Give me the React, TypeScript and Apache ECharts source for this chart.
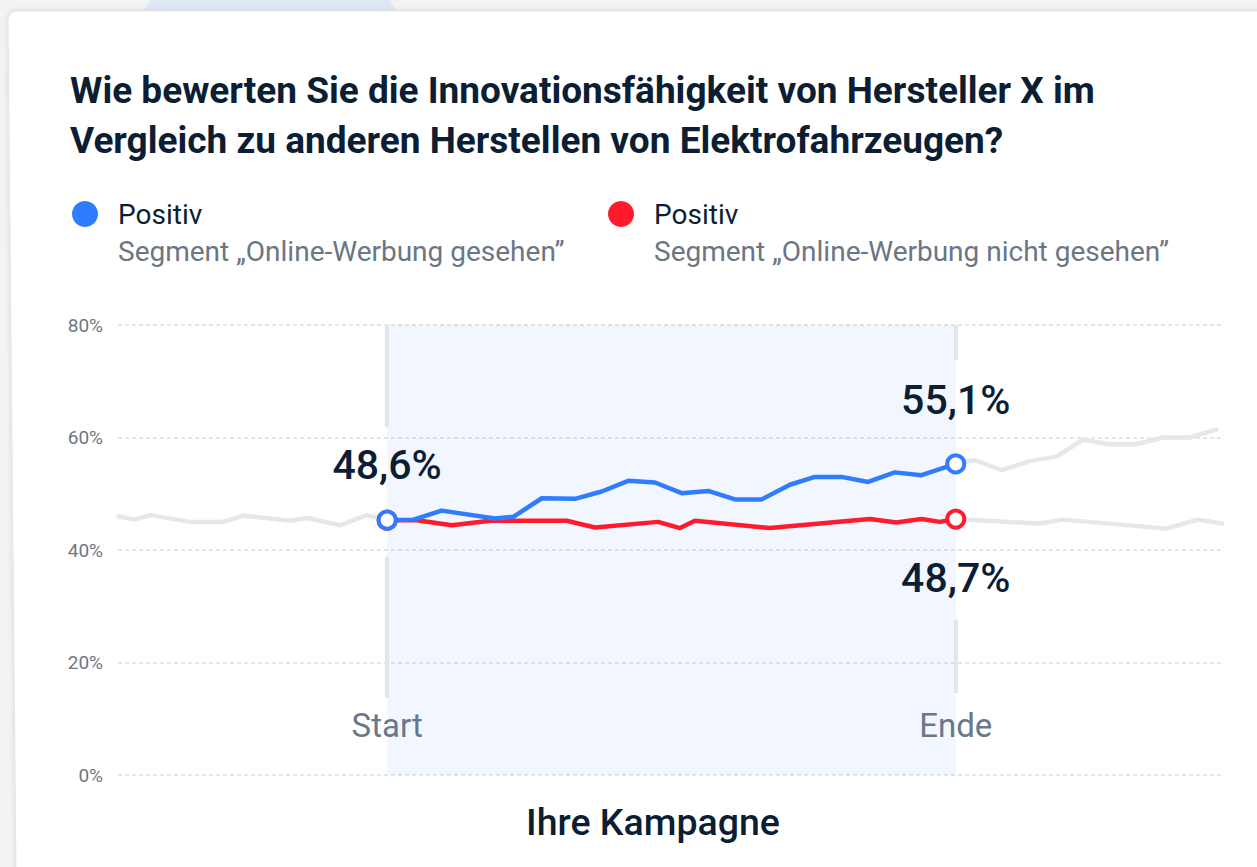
import React, { useEffect, useRef } from "react";
import * as echarts from "echarts";

// Title / legend texts
const titleText = "Wie bewerten Sie die Innovationsfähigkeit von Hersteller X im\nVergleich zu anderen Herstellen von Elektrofahrzeugen?";
const legendNames = ["Positiv", "Positiv"];
const legendSubs = ["Segment „Online-Werbung gesehen”", "Segment „Online-Werbung nicht gesehen”"];
const xAxisTitle = "Ihre Kampagne";
const campaignTicks = [0, 30];
const campaignTickLabels = ["Start", "Ende"];

// Before campaign (grey, days relative to start)
const preX = [-14.17, -13.38, -12.5, -10.39, -8.63, -7.58, -5.11, -4.23, -2.48, -1.07, 0];
const preY = [46.0, 45.4, 46.2, 45.0, 45.0, 46.1, 45.2, 45.7, 44.4, 46.2, 45.3];

// Campaign: segment "Online-Werbung gesehen" (blue)
const blueX = [0, 1.39, 2.88, 5.69, 6.66, 8.16, 9.91, 11.32, 12.72, 14.13, 15.54, 16.94, 18.35, 19.76, 21.25, 22.57, 23.97, 25.38, 26.78, 28.19, 30];
const blueY = [45.3, 45.4, 47.0, 45.6, 45.9, 49.2, 49.1, 50.4, 52.3, 52.0, 50.1, 50.5, 49.0, 49.0, 51.6, 53.0, 53.0, 52.1, 53.8, 53.3, 55.3];

// Campaign: segment "Online-Werbung nicht gesehen" (red)
const redX = [0, 1.57, 3.41, 5.43, 9.47, 10.97, 14.3, 15.45, 16.24, 20.19, 25.47, 26.87, 28.19, 29.16, 30];
const redY = [45.3, 45.3, 44.4, 45.2, 45.2, 44.0, 45.0, 43.9, 45.2, 43.9, 45.5, 44.9, 45.5, 45.0, 45.5];

// After campaign (grey)
const postUpperX = [30, 31.0, 32.41, 33.9, 35.31, 36.71, 38.12, 39.53, 40.93, 42.34, 43.74];
const postUpperY = [55.3, 56.0, 54.2, 55.8, 56.6, 59.6, 58.8, 58.8, 60.0, 60.0, 61.4];
const postLowerX = [30, 34.43, 35.66, 41.11, 42.77, 44.05];
const postLowerY = [45.5, 44.7, 45.4, 43.8, 45.4, 44.7];

// Value labels shown at the campaign endpoints
const blueLabels = ["48,6%", "55,1%"];
const redLabels = ["", "48,7%"];

const yTicks = { min: 0, max: 80, interval: 20 };

const zip = (xs: number[], ys: number[]) => xs.map((x, i) => [x, ys[i]]);

const BLUE = "#2f7cff";
const RED = "#ff1a2d";
const GREY_LINE = "#e6e7e9";
const DARK = "#0b1e33";
const MUTED = "#6b7684";
const FONT = "Roboto, 'Noto Sans', sans-serif";

export default function App() {
  const ref = useRef<HTMLDivElement>(null);

  useEffect(() => {
    if (!ref.current) return;
    const chart = echarts.init(ref.current, undefined, { renderer: "svg" });

    const greyLine = (data: number[][], extra: any = {}) => ({
      type: "line",
      data,
      symbol: "none",
      silent: true,
      z: 2,
      lineStyle: { color: GREY_LINE, width: 4.5, join: "round", cap: "round" },
      ...extra,
    });

    const colored = (data: number[][], color: string) => ({
      type: "line",
      data,
      symbol: "none",
      silent: true,
      z: 3,
      lineStyle: { color, width: 4.5, join: "round", cap: "round" },
    });

    const endpoints = (xs: number[], ys: number[], color: string, labels: string[], pos: string[], dist: number[]) => ({
      type: "scatter",
      z: 5,
      silent: true,
      symbol: "circle",
      symbolSize: 17,
      itemStyle: { color: "#ffffff", borderColor: color, borderWidth: 4, opacity: 1 },
      data: [0, xs.length - 1].map((idx, k) => ({
        value: [xs[idx], ys[idx]],
        label: {
          show: labels[k] !== "",
          formatter: labels[k],
          position: pos[k],
          distance: dist[k],
          fontSize: 41,
          fontWeight: 500,
          fontFamily: FONT,
          color: DARK,
        },
      })),
    });

    const legendGraphic = (x: number, color: string, i: number) => [
      { type: "circle", shape: { cx: x, cy: 214, r: 13 }, style: { fill: color } },
      {
        type: "text",
        x: x + 33,
        y: 214,
        style: { text: legendNames[i], fontSize: 28, fontFamily: FONT, fill: DARK, verticalAlign: "middle" },
      },
      {
        type: "text",
        x: x + 33,
        y: 251,
        style: { text: legendSubs[i], fontSize: 28, fontFamily: FONT, fill: MUTED, verticalAlign: "middle" },
      },
    ];

    chart.setOption({
      animation: false,
      backgroundColor: "#f3f3f4",
      title: {
        text: titleText,
        left: 65,
        top: 60,
        textStyle: { fontSize: 37, fontWeight: "bold", fontFamily: FONT, color: DARK, lineHeight: 50 },
      },
      graphic: [
        {
          type: "polygon",
          z: -10,
          shape: { points: [[150, 0], [390, 0], [397, 12], [143, 12]] },
          style: { fill: "#dfe8f5" },
        },
        {
          type: "polygon",
          z: -5,
          shape: { points: [[8, 19], [10, 14], [15, 11], [1262, 11], [1262, 872], [16, 872]] },
          style: { fill: "#ffffff", stroke: "#e4e5e7", lineWidth: 1, shadowBlur: 5, shadowColor: "rgba(0,0,0,0.12)" },
        },
        ...legendGraphic(85, BLUE, 0),
        ...legendGraphic(621, RED, 1),
        {
          type: "text",
          x: 653,
          y: 822,
          style: { text: xAxisTitle, fontSize: 37.5, fontWeight: 500, fontFamily: FONT, fill: DARK, align: "center", verticalAlign: "middle" },
        },
      ],
      grid: { left: 118, right: 34, top: 325, bottom: 92, containLabel: false },
      xAxis: {
        type: "value",
        min: -14.2,
        max: 44.1,
        z: 1,
        axisLine: { show: false },
        axisTick: { show: false },
        splitLine: { show: false },
        axisLabel: {
          customValues: campaignTicks,
          formatter: (v: number) => campaignTickLabels[campaignTicks.indexOf(v)] ?? "",
          margin: -66,
          fontSize: 33,
          fontFamily: FONT,
          color: "#68788a",
        },
      },
      yAxis: {
        type: "value",
        min: yTicks.min,
        max: yTicks.max,
        interval: yTicks.interval,
        z: 1,
        axisLine: { show: false },
        axisTick: { show: false },
        axisLabel: { formatter: "{value}%", fontSize: 19, fontFamily: FONT, color: "#6f7782", margin: 15 },
        splitLine: { show: true, lineStyle: { color: "#dcdee2", width: 1.5, type: [4, 3] } },
      },
      series: [
        greyLine(zip(preX, preY), {
          markArea: {
            silent: true,
            itemStyle: { color: "rgba(0,100,255,0.05)" },
            data: [[{ xAxis: campaignTicks[0] }, { xAxis: campaignTicks[1] }]],
          },
          markLine: {
            silent: true,
            symbol: "none",
            label: { show: false },
            lineStyle: { color: "#e3e5e8", width: 4, type: "solid" },
            data: [
              [{ coord: [campaignTicks[0], 80] }, { coord: [campaignTicks[0], 61.9] }],
              [{ coord: [campaignTicks[0], 38.8] }, { coord: [campaignTicks[0], 13.7] }],
              [{ coord: [campaignTicks[1], 80] }, { coord: [campaignTicks[1], 73.8] }],
              [{ coord: [campaignTicks[1], 27.6] }, { coord: [campaignTicks[1], 14.6] }],
            ],
          },
        }),
        greyLine(zip(postUpperX, postUpperY)),
        greyLine(zip(postLowerX, postLowerY)),
        colored(zip(redX, redY), RED),
        colored(zip(blueX, blueY), BLUE),
        endpoints(redX, redY, RED, redLabels, ["top", "bottom"], [0, 28]),
        endpoints(blueX, blueY, BLUE, blueLabels, ["top", "top"], [24, 33]),
      ],
    });

    return () => chart.dispose();
  }, []);

  return <div ref={ref} style={{ position: "fixed", left: 0, top: 0, width: 1257, height: 867 }} />;
}
